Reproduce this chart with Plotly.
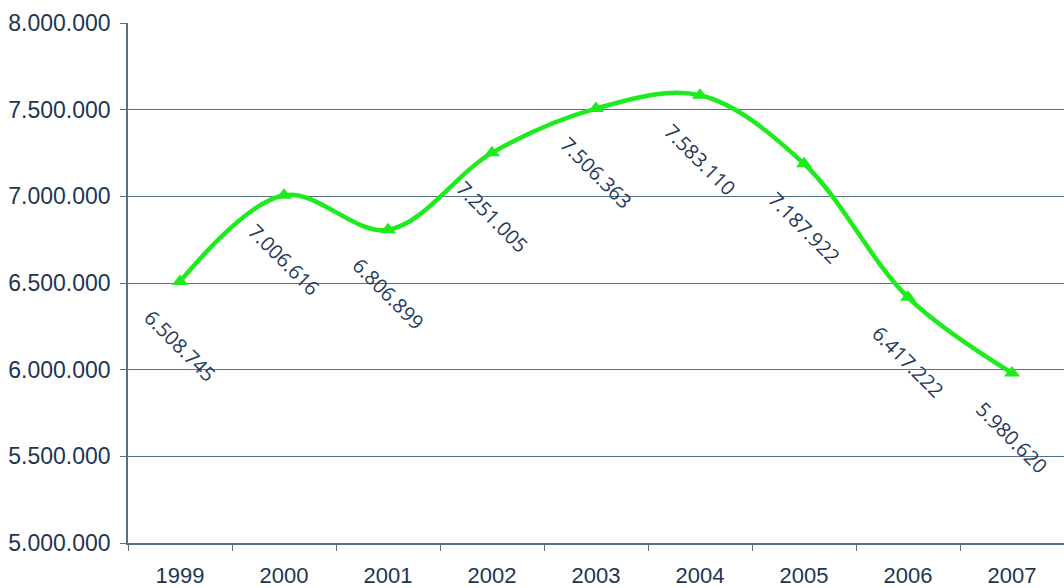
import plotly.graph_objects as go

years = ["1999", "2000", "2001", "2002", "2003", "2004", "2005", "2006", "2007"]
values = [6508745, 7006616, 6806899, 7251005, 7506363, 7583110, 7187922, 6417222, 5980620]
y_ticks = [5000000, 5500000, 6000000, 6500000, 7000000, 7500000, 8000000]

def fmt(v):
    return f"{v:,}".replace(",", ".")

green = "#1EEB1E"
fig = go.Figure()
fig.add_trace(go.Scatter(
    x=years, y=values, mode="lines+markers",
    line=dict(color=green, width=4.5, shape="spline", smoothing=1.0),
    marker=dict(symbol="triangle-up", size=14, color=green),
    hoverinfo="skip", showlegend=False,
))

for i, v in enumerate(values):
    fig.add_annotation(
        x=i, y=v, xref="x", yref="y", text=fmt(v), showarrow=False,
        textangle=45, yshift=-64, xshift=0,
        font=dict(family="Open Sans", size=20, color="#1F3A5C"),
    )

axis_col = "#56708A"
label_col = "#1F3550"
fig.update_layout(
    width=1064, height=588,
    margin=dict(l=128, r=0, t=23, b=43),
    paper_bgcolor="white", plot_bgcolor="white",
    xaxis=dict(
        type="category", tickson="boundaries", ticks="outside", ticklen=6,
        tickcolor=axis_col, showline=True, linecolor=axis_col, linewidth=1.5,
        showgrid=False, tickfont=dict(family="Liberation Sans", size=22, color=label_col),
        range=[-0.5, 8.5], ticklabelstandoff=12,
    ),
    yaxis=dict(
        range=[5000000, 8000000], tickvals=y_ticks, ticktext=[fmt(t) for t in y_ticks],
        ticks="outside", ticklen=6, tickcolor=axis_col, showline=True, linecolor=axis_col,
        linewidth=1.5, showgrid=True, gridcolor=axis_col, gridwidth=1.2, zeroline=False,
        tickfont=dict(family="Liberation Sans", size=23, color=label_col),
        ticklabelstandoff=5,
    ),
)

fig.write_html(
    "out.html",
    config={"displayModeBar": False},
    post_script="document.body.style.margin='0';document.body.style.overflow='hidden';",
)
